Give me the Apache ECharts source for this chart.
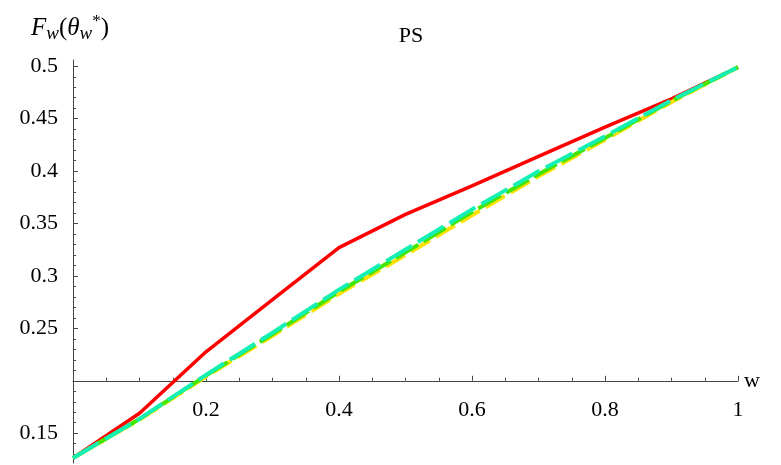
<!DOCTYPE html>
<html>
<head>
<meta charset="utf-8">
<script src="https://cdn.jsdelivr.net/npm/echarts@6/dist/echarts.min.js"></script>
<style>
  html, body { margin: 0; padding: 0; background: #fff; }
  #chart { width: 781px; height: 465px; }
</style>
</head>
<body>
<div id="chart"></div>
<script>
// w values along the x axis
const W = [0, 0.1, 0.2, 0.3, 0.4, 0.5, 0.6, 0.7, 0.8, 0.9, 1];
// F_w(theta_w*) for the four curves
const Red = [0.1264, 0.169, 0.2277, 0.2775, 0.327, 0.3587, 0.386, 0.414, 0.442, 0.469, 0.499];
const Yellow = [0.1264, 0.163, 0.204, 0.243, 0.283, 0.320, 0.358, 0.395, 0.430, 0.466, 0.4992];
const Green = [0.1264, 0.1635, 0.205, 0.2445, 0.285, 0.3225, 0.361, 0.397, 0.4315, 0.467, 0.4992];
const Cyan = [0.1264, 0.1637, 0.2057, 0.2459, 0.287, 0.3252, 0.3635, 0.3998, 0.4333, 0.4677, 0.4992];

const yLabels = [0.15, 0.25, 0.3, 0.35, 0.4, 0.45, 0.5];
const yMajorTicks = [0.15, 0.2, 0.25, 0.3, 0.35, 0.4, 0.45, 0.5];
const yMinorTicks = [0.13, 0.14, 0.16, 0.17, 0.18, 0.19, 0.21, 0.22, 0.23, 0.24,
  0.26, 0.27, 0.28, 0.29, 0.31, 0.32, 0.33, 0.34, 0.36, 0.37, 0.38, 0.39,
  0.41, 0.42, 0.43, 0.44, 0.46, 0.47, 0.48, 0.49];

const yMin = 0.1216, yMax = 0.506, xCross = 0.2;
const gridTop = 60, gridBottom = 2;

function pairs(ys) {
  return W.map((w, i) => [w, ys[i]]);
}

function renderChart() {
  const dom = document.getElementById('chart');
  const chart = echarts.init(dom);
  const serif = 'Liberation Serif';
  const axisColor = '#444';
  const plotH = 465 - gridTop - gridBottom;
  const xOffset = -(xCross - yMin) / (yMax - yMin) * plotH;

  const option = {
    animation: false,
    title: {
      text: 'PS',
      left: 406,
      top: 20,
      textAlign: 'center',
      textStyle: { fontFamily: serif, fontWeight: 'normal', fontSize: 22, color: '#000' },
    },
    // y axis name, F_w(theta_w*)
    graphic: [
      {
        type: 'text',
        left: 31,
        top: 13,
        style: {
          text: '{i|F}{sub|w}{n|(}{i|θ}{sub|w}{sup|*}{n|)}',
          rich: {
            i: { fontFamily: serif, fontStyle: 'italic', fontSize: 25, fill: '#000', lineHeight: 30 },
            n: { fontFamily: serif, fontSize: 25, fill: '#000', lineHeight: 30 },
            sub: { fontFamily: serif, fontStyle: 'italic', fontSize: 19, fill: '#000', verticalAlign: 'bottom', lineHeight: 19 },
            sup: { fontFamily: serif, fontSize: 17, fill: '#000', verticalAlign: 'top', lineHeight: 24 },
          },
        },
      },
    ],
    grid: { left: 73, right: 43, top: gridTop, bottom: gridBottom },
    xAxis: {
      type: 'value',
      min: 0,
      max: 1,
      interval: 0.2,
      position: 'bottom',
      offset: xOffset,
      name: 'w',
      nameLocation: 'end',
      nameGap: 6,
      nameTextStyle: { fontFamily: serif, fontSize: 22, color: '#000', verticalAlign: 'middle' },
      axisLine: { onZero: false, lineStyle: { color: axisColor, width: 1 } },
      axisTick: { inside: true, length: 5, lineStyle: { color: axisColor } },
      minorTick: { show: true, splitNumber: 4, length: 3, lineStyle: { color: axisColor } },
      axisLabel: {
        margin: 18,
        fontFamily: serif,
        fontSize: 22,
        color: '#000',
        formatter: v => (v === 0 ? '' : String(v)),
      },
      splitLine: { show: false },
    },
    yAxis: [
      {
        type: 'value',
        min: yMin,
        max: yMax,
        position: 'left',
        axisLine: { onZero: false, lineStyle: { color: axisColor, width: 1 } },
        axisTick: { inside: true, length: 5, customValues: yMajorTicks, lineStyle: { color: axisColor } },
        axisLabel: {
          margin: 15,
          fontFamily: serif,
          fontSize: 22,
          color: '#000',
          customValues: yLabels,
        },
        splitLine: { show: false },
      },
      {
        type: 'value',
        min: yMin,
        max: yMax,
        position: 'left',
        axisLine: { show: false, onZero: false },
        axisTick: { inside: true, length: 3, customValues: yMinorTicks, lineStyle: { color: axisColor } },
        axisLabel: { show: false, customValues: [] },
        splitLine: { show: false },
      },
    ],
    series: [
      {
        name: 'red',
        type: 'line',
        data: pairs(Red),
        showSymbol: false,
        lineStyle: { color: '#ff0000', width: 3.5 },
        z: 2,
      },
      {
        name: 'yellow',
        type: 'line',
        data: pairs(Yellow),
        showSymbol: false,
        lineStyle: { color: '#ffe000', width: 4, type: [22, 7], dashOffset: 10 },
        z: 3,
      },
      {
        name: 'green',
        type: 'line',
        data: pairs(Green),
        showSymbol: false,
        lineStyle: { color: '#44e600', width: 4, type: [26, 6], dashOffset: 4 },
        z: 4,
      },
      {
        name: 'cyan',
        type: 'line',
        data: pairs(Cyan),
        showSymbol: false,
        lineStyle: { color: '#14f0b4', width: 4, type: [30, 7] },
        z: 5,
      },
    ],
  };
  chart.setOption(option, true);
}

renderChart();
</script>
</body>
</html>
